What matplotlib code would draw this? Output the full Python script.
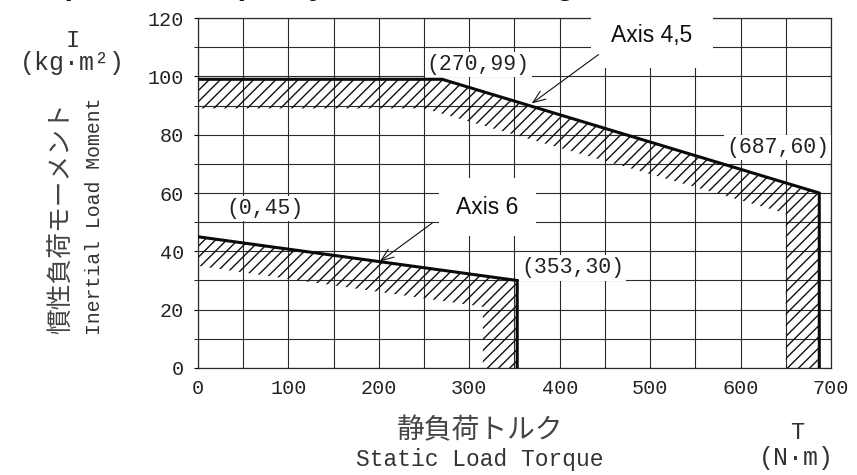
import numpy as np
import matplotlib
matplotlib.use("Agg")
import matplotlib.pyplot as plt
from matplotlib.patches import Polygon

plt.rcParams['font.family'] = ['Liberation Mono', 'Noto Sans CJK JP', 'DejaVu Sans']

# boundary of each axis (outer) and inner edge of the hatched band
ax45_x = [0, 270, 687, 687]
ax45_y = [99, 99, 60, 0]
ax45_in_x = [0, 250, 650, 650]
ax45_in_y = [89, 89, 53, 0]

ax6_x = [0, 353, 353]
ax6_y = [45, 30, 0]
ax6_in_x = [0, 315, 315]
ax6_in_y = [35, 21, 0]

corner_labels = ["(270,99)", "(687,60)", "(0,45)", "(353,30)"]
corner_pos = [(310, 104), (641, 75.5), (74, 54.8), (414, 34.3)]

x_ticks = [0, 100, 200, 300, 400, 500, 600, 700]
y_ticks = [0, 20, 40, 60, 80, 100, 120]

fig = plt.figure(figsize=(8.57, 4.75), dpi=100)
ax = fig.add_axes([0.231, 0.2253, 0.7387, 0.7367])
ax.set_xlim(0, 700)
ax.set_ylim(0, 120)

ax.set_xticks(x_ticks)
ax.set_yticks(y_ticks)
ax.set_xticks(np.arange(0, 701, 50), minor=True)
ax.set_yticks(np.arange(0, 121, 10), minor=True)
ax.grid(True, which='both', color='#2a2a2a', lw=0.8, zorder=0)
ax.set_axisbelow(True)
ax.tick_params(axis='x', which='both', length=0, pad=8, labelsize=14.5, labelcolor='#222')
ax.tick_params(axis='y', which='both', length=3, direction='out', pad=7, labelsize=14.5, labelcolor='#222')
for s in ax.spines.values():
    s.set_color('#2a2a2a')
    s.set_linewidth(0.9)

# hatched bands
for ox, oy, ix, iy in [(ax45_x, ax45_y, ax45_in_x, ax45_in_y),
                       (ax6_x, ax6_y, ax6_in_x, ax6_in_y)]:
    pts = list(zip(ox, oy)) + list(zip(ix, iy))[::-1]
    ax.add_patch(Polygon(pts, closed=True, facecolor='none', edgecolor='#111',
                         lw=0, hatch='///', zorder=2))

ax.plot(ax45_x, ax45_y, color='#0a0a0a', lw=2.2, zorder=3, solid_joinstyle='miter')
ax.plot(ax6_x, ax6_y, color='#0a0a0a', lw=2.2, zorder=3, solid_joinstyle='miter')

for lab, (lx, ly) in zip(corner_labels, corner_pos):
    ax.text(lx, ly, lab, ha='center', va='center', fontsize=15.5, color='#222', zorder=5,
            bbox=dict(boxstyle='square,pad=0.1', fc='white', ec='none'))

# axis callouts
ax.text(502, 114, "Axis 4,5", family='Liberation Sans', fontsize=16.5, ha='center', va='center',
        color='#111', zorder=5, bbox=dict(boxstyle='square,pad=0.9', fc='white', ec='none'))
ax.text(320, 55.2, "Axis 6", family='Liberation Sans', fontsize=16.5, ha='center', va='center',
        color='#111', zorder=5, bbox=dict(boxstyle='square,pad=0.75', fc='white', ec='none'))
arrow = dict(arrowstyle='->,head_length=0.9,head_width=0.35', lw=0.8, color='#111',
             shrinkA=0, shrinkB=0)
ax.annotate("", xy=(369, 90.7), xytext=(443, 107.5), arrowprops=arrow, zorder=6)
ax.annotate("", xy=(201, 36.5), xytext=(259, 49.7), arrowprops=arrow, zorder=6)

# axis titles
fig.text(0.0723, 0.541, "慣性負荷モーメント", rotation=90, ha='center', va='center',
         family=['Noto Sans CJK JP'], fontsize=18.5, color='#444')
fig.text(0.1097, 0.545, "Inertial Load Moment", rotation=90, ha='center', va='center',
         fontsize=14.2, color='#333')
fig.text(0.085, 0.914, "I", ha='center', va='center', fontsize=17, color='#333')
fig.text(0.084, 0.867, "(kg·m²)", ha='center', va='center', fontsize=18, color='#333')

fig.text(0.560, 0.0947, "静負荷トルク", ha='center', va='center',
         family=['Noto Sans CJK JP'], fontsize=20, color='#444')
fig.text(0.560, 0.032, "Static Load Torque", ha='center', va='center', fontsize=16.5, color='#333')
fig.text(0.930, 0.0905, "T", ha='center', va='center', fontsize=17, color='#333')
fig.text(0.929, 0.0358, "(N·m)", ha='center', va='center', fontsize=18, color='#333')

# heading, only its descenders show at the top edge
fig.text(0.0, 1.013, "Sample Load Capacity of Wrist Loading", family='Liberation Sans',
         fontweight='bold', fontsize=22, ha='left', va='baseline', color='#111')

fig.savefig("out.png", dpi=100)
